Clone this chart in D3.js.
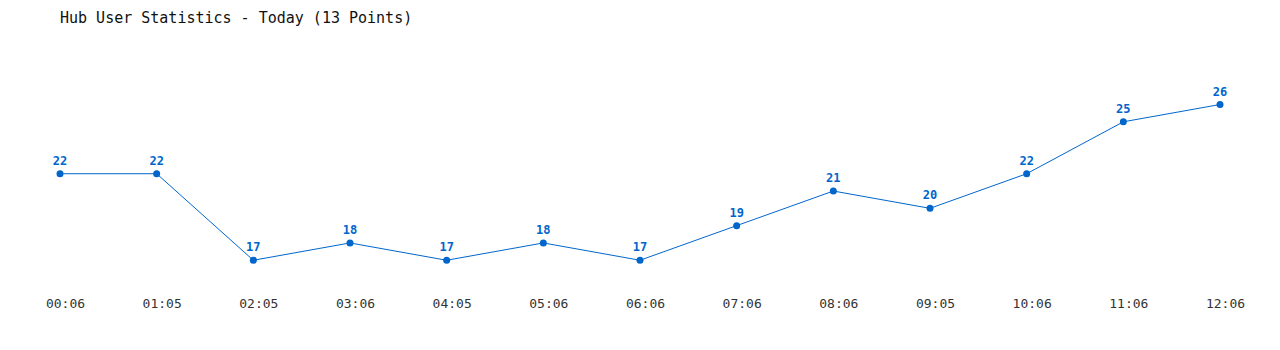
<!DOCTYPE html>
<html><head><meta charset="utf-8">
<script src="https://cdn.jsdelivr.net/npm/d3@7/dist/d3.min.js"></script>
<style>body{margin:0;background:#fff}svg{display:block}</style>
</head><body>
<svg id="c" width="1280" height="350"></svg>
<script>
const times = ["00:06","01:05","02:05","03:06","04:05","05:06","06:06","07:06","08:06","09:05","10:06","11:06","12:06"];
const users = [22,22,17,18,17,18,17,19,21,20,22,25,26];
const title = "Hub User Statistics - Today (13 Points)";

const svg = d3.select("#c");
const color = "#0066cc";
const x = d3.scalePoint().domain(times).range([60,1220]);
const y = d3.scaleLinear().domain([17,26]).range([260.25,104.5]);

svg.append("text").attr("x",60).attr("y",23)
  .attr("font-family","DejaVu Sans Mono, monospace").attr("font-size",15)
  .attr("fill","#111").text(title);

const xAxis = d3.axisBottom(x).tickSize(0).tickPadding(0);
const gx = svg.append("g").attr("transform","translate(5,299)").call(xAxis);
gx.select(".domain").remove();
gx.selectAll("text").attr("font-family","DejaVu Sans Mono, monospace").attr("font-size",13).attr("fill","#333");

const line = d3.line().x((d,i)=>x(times[i])).y(d=>y(d));
svg.append("path").datum(users).attr("d",line).attr("fill","none").attr("stroke",color).attr("stroke-width",1);

svg.selectAll("circle.p").data(users).join("circle").attr("class","p")
  .attr("cx",(d,i)=>x(times[i])).attr("cy",d=>y(d)).attr("r",3.5).attr("fill",color);

svg.selectAll("text.v").data(users).join("text").attr("class","v")
  .attr("x",(d,i)=>x(times[i])).attr("y",d=>y(d)-9).attr("text-anchor","middle")
  .attr("font-family","DejaVu Sans Mono, monospace").attr("font-size",12).attr("font-weight","bold")
  .attr("fill",color).text(d=>d);
</script>
</body></html>
